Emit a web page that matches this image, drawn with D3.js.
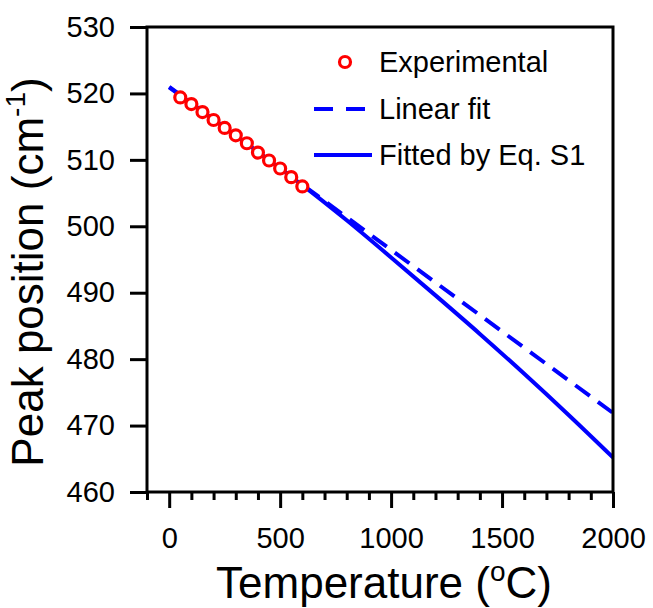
<!DOCTYPE html>
<html>
<head>
<meta charset="utf-8">
<script src="https://cdn.jsdelivr.net/npm/d3@7/dist/d3.min.js"></script>
<style>
  html, body { margin: 0; padding: 0; background: #fff; }
  svg { display: block; font-family: "Liberation Sans", Arial, sans-serif; }
</style>
</head>
<body>
<svg id="chart" width="653" height="608"></svg>
<script>
// ---- Data ----
const expT = [50, 100, 150, 200, 250, 300, 350, 400, 450, 500, 550, 600];
const expY = [519.4, 518.4, 517.2, 516.0, 514.8, 513.7, 512.5, 511.1, 509.9, 508.7, 507.4, 506.0];
const linearT = [0, 2000];
const linearY = [521.0, 471.9];
const fitT = [0, 100, 200, 300, 400, 500, 600, 800, 1000, 1200, 1400, 1600, 1800, 2000];
const fitY = [520.9, 518.5, 516.1, 513.7, 511.2, 508.7, 506.2, 500.9, 495.3, 489.6, 483.8, 477.8, 471.6, 465.2];
const xMajorTicks = [0, 500, 1000, 1500, 2000];
const xMinorTicks = [-100, 100, 200, 300, 400, 600, 700, 800, 900, 1100, 1200, 1300, 1400, 1600, 1700, 1800, 1900];
const yTicks = [460, 470, 480, 490, 500, 510, 520, 530];
const legendLabels = ["Experimental", "Linear fit", "Fitted by Eq. S1"];

// ---- Layout ----
const mLeft = 147, mRight = 613, mTop = 27, mBottom = 492;
const svg = d3.select("#chart");
const x = d3.scaleLinear().domain([-100, 2000]).range([mLeft, mRight]);
const y = d3.scaleLinear().domain([460, 530]).range([mBottom, mTop]);
const blue = "#0000ff", red = "#ff0000";
const tickFont = 29;

// ---- Axes ----
const yAxis = d3.axisLeft(y).tickValues(yTicks).tickSize(17).tickPadding(15).tickFormat(d3.format("d"));
const gy = svg.append("g").attr("transform", `translate(${mLeft},0)`).call(yAxis);
gy.select(".domain").remove();
gy.selectAll(".tick line").attr("stroke", "#000").attr("stroke-width", 3);
gy.selectAll(".tick text").attr("font-size", tickFont).attr("fill", "#000")
  .attr("font-family", '"Liberation Sans", Arial, sans-serif');

const xAxisMajor = d3.axisBottom(x).tickValues(xMajorTicks).tickSize(16).tickPadding(19).tickFormat(d3.format("d"));
const gx = svg.append("g").attr("transform", `translate(0,${mBottom})`).call(xAxisMajor);
gx.select(".domain").remove();
gx.selectAll(".tick line").attr("stroke", "#000").attr("stroke-width", 3);
gx.selectAll(".tick text").attr("font-size", tickFont).attr("fill", "#000")
  .attr("font-family", '"Liberation Sans", Arial, sans-serif');

const xAxisMinor = d3.axisBottom(x).tickValues(xMinorTicks).tickSize(8).tickFormat("");
const gxm = svg.append("g").attr("transform", `translate(0,${mBottom})`).call(xAxisMinor);
gxm.select(".domain").remove();
gxm.selectAll(".tick line").attr("stroke", "#000").attr("stroke-width", 3);

// ---- Lines ----
const linData = linearT.map((t, i) => [t, linearY[i]]);
const fitData = fitT.map((t, i) => [t, fitY[i]]);
const lineGen = d3.line().x(d => x(d[0])).y(d => y(d[1]));
const curveGen = d3.line().x(d => x(d[0])).y(d => y(d[1])).curve(d3.curveMonotoneX);

svg.append("path").datum(linData).attr("d", lineGen)
  .attr("fill", "none").attr("stroke", blue).attr("stroke-width", 4)
  .attr("stroke-dasharray", "18,10");
svg.append("path").datum(fitData).attr("d", curveGen)
  .attr("fill", "none").attr("stroke", blue).attr("stroke-width", 4);

// ---- Experimental points ----
svg.append("g").selectAll("circle").data(expT.map((t, i) => [t, expY[i]]))
  .join("circle")
  .attr("cx", d => x(d[0])).attr("cy", d => y(d[1])).attr("r", 5.5)
  .attr("fill", "#fff").attr("stroke", red).attr("stroke-width", 3.2);

// ---- Frame ----
svg.append("rect").attr("x", mLeft).attr("y", mTop)
  .attr("width", mRight - mLeft).attr("height", mBottom - mTop)
  .attr("fill", "none").attr("stroke", "#000").attr("stroke-width", 3);

// ---- Legend ----
const lg = svg.append("g");
const rowY = [62, 109, 155];
lg.append("circle").attr("cx", 345).attr("cy", rowY[0]).attr("r", 5.5)
  .attr("fill", "#fff").attr("stroke", red).attr("stroke-width", 3.2);
lg.append("line").attr("x1", 314).attr("x2", 370).attr("y1", rowY[1]).attr("y2", rowY[1])
  .attr("stroke", blue).attr("stroke-width", 4).attr("stroke-dasharray", "19,13");
lg.append("line").attr("x1", 314).attr("x2", 372).attr("y1", rowY[2]).attr("y2", rowY[2])
  .attr("stroke", blue).attr("stroke-width", 4);
lg.selectAll("text").data(legendLabels).join("text")
  .attr("x", 379).attr("y", (d, i) => rowY[i] + 10)
  .attr("font-size", tickFont).attr("fill", "#000").text(d => d);

// ---- Axis titles ----
const xt = svg.append("text").attr("x", 384).attr("y", 598)
  .attr("text-anchor", "middle").attr("font-size", 44).attr("fill", "#000");
xt.append("tspan").text("Temperature (");
xt.append("tspan").attr("font-size", 28).attr("dy", -17).text("o");
xt.append("tspan").attr("dy", 17).text("C)");

const yt = svg.append("text").attr("transform", "translate(43,272) rotate(-90)")
  .attr("text-anchor", "middle").attr("font-size", 44).attr("fill", "#000");
yt.append("tspan").text("Peak position (cm");
yt.append("tspan").attr("font-size", 28).attr("dy", -18).text("-1");
yt.append("tspan").attr("dy", 18).text(")");
</script>
</body>
</html>
